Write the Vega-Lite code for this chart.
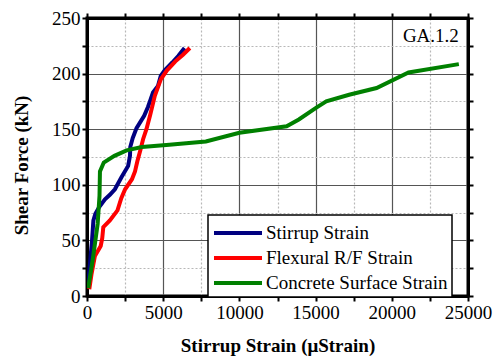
{
  "$schema": "https://vega.github.io/schema/vega-lite/v6.json",
  "width": 381,
  "height": 278,
  "autosize": {"type": "none"},
  "padding": {"left": 87, "top": 18, "right": 27, "bottom": 65},
  "background": "white",
  "config": {
    "view": {"stroke": "black", "strokeWidth": 3},
    "font": "Times New Roman, Liberation Serif, serif",
    "axis": {
      "labelFont": "Times New Roman, Liberation Serif, serif",
      "labelFontSize": 19,
      "labelColor": "black",
      "labelFlush": false,
      "titleFont": "Times New Roman, Liberation Serif, serif",
      "titleFontSize": 19,
      "titleFontWeight": "bold",
      "titleColor": "black",
      "domainColor": "black",
      "domainWidth": 3,
      "tickColor": "black",
      "tickWidth": 2,
      "tickSize": 5,
      "gridWidth": 1.2
    }
  },
  "datasets": {
    "strain": [
      {"series": "Stirrup Strain", "strain": 60, "force": 8},
      {"series": "Stirrup Strain", "strain": 200, "force": 30},
      {"series": "Stirrup Strain", "strain": 330, "force": 50},
      {"series": "Stirrup Strain", "strain": 420, "force": 68},
      {"series": "Stirrup Strain", "strain": 550, "force": 74},
      {"series": "Stirrup Strain", "strain": 800, "force": 80},
      {"series": "Stirrup Strain", "strain": 1180, "force": 87},
      {"series": "Stirrup Strain", "strain": 1500, "force": 91},
      {"series": "Stirrup Strain", "strain": 1830, "force": 96},
      {"series": "Stirrup Strain", "strain": 2270, "force": 107},
      {"series": "Stirrup Strain", "strain": 2700, "force": 117},
      {"series": "Stirrup Strain", "strain": 2820, "force": 126},
      {"series": "Stirrup Strain", "strain": 2840, "force": 134},
      {"series": "Stirrup Strain", "strain": 3000, "force": 142},
      {"series": "Stirrup Strain", "strain": 3250, "force": 151},
      {"series": "Stirrup Strain", "strain": 3750, "force": 162},
      {"series": "Stirrup Strain", "strain": 4000, "force": 170},
      {"series": "Stirrup Strain", "strain": 4180, "force": 177},
      {"series": "Stirrup Strain", "strain": 4330, "force": 183},
      {"series": "Stirrup Strain", "strain": 4660, "force": 189},
      {"series": "Stirrup Strain", "strain": 4840, "force": 198},
      {"series": "Stirrup Strain", "strain": 5100, "force": 203},
      {"series": "Stirrup Strain", "strain": 5600, "force": 210},
      {"series": "Stirrup Strain", "strain": 6000, "force": 216},
      {"series": "Stirrup Strain", "strain": 6400, "force": 223},
      {"series": "Flexural R/F Strain", "strain": 150, "force": 6},
      {"series": "Flexural R/F Strain", "strain": 300, "force": 20},
      {"series": "Flexural R/F Strain", "strain": 520, "force": 36},
      {"series": "Flexural R/F Strain", "strain": 900, "force": 45},
      {"series": "Flexural R/F Strain", "strain": 1000, "force": 52},
      {"series": "Flexural R/F Strain", "strain": 1070, "force": 62},
      {"series": "Flexural R/F Strain", "strain": 1500, "force": 68},
      {"series": "Flexural R/F Strain", "strain": 2000, "force": 77},
      {"series": "Flexural R/F Strain", "strain": 2250, "force": 88},
      {"series": "Flexural R/F Strain", "strain": 2500, "force": 96},
      {"series": "Flexural R/F Strain", "strain": 2950, "force": 105},
      {"series": "Flexural R/F Strain", "strain": 3150, "force": 112},
      {"series": "Flexural R/F Strain", "strain": 3300, "force": 121},
      {"series": "Flexural R/F Strain", "strain": 3500, "force": 131},
      {"series": "Flexural R/F Strain", "strain": 3680, "force": 141},
      {"series": "Flexural R/F Strain", "strain": 3900, "force": 150},
      {"series": "Flexural R/F Strain", "strain": 4150, "force": 163},
      {"series": "Flexural R/F Strain", "strain": 4450, "force": 180},
      {"series": "Flexural R/F Strain", "strain": 4850, "force": 195},
      {"series": "Flexural R/F Strain", "strain": 5250, "force": 203},
      {"series": "Flexural R/F Strain", "strain": 5800, "force": 211},
      {"series": "Flexural R/F Strain", "strain": 6300, "force": 217},
      {"series": "Flexural R/F Strain", "strain": 6750, "force": 223},
      {"series": "Concrete Surface Strain", "strain": 80, "force": 7},
      {"series": "Concrete Surface Strain", "strain": 400, "force": 35},
      {"series": "Concrete Surface Strain", "strain": 700, "force": 65},
      {"series": "Concrete Surface Strain", "strain": 820, "force": 90},
      {"series": "Concrete Surface Strain", "strain": 850, "force": 112},
      {"series": "Concrete Surface Strain", "strain": 1100, "force": 120},
      {"series": "Concrete Surface Strain", "strain": 1800, "force": 126},
      {"series": "Concrete Surface Strain", "strain": 2600, "force": 131},
      {"series": "Concrete Surface Strain", "strain": 3600, "force": 134},
      {"series": "Concrete Surface Strain", "strain": 5400, "force": 136},
      {"series": "Concrete Surface Strain", "strain": 7800, "force": 139},
      {"series": "Concrete Surface Strain", "strain": 10000, "force": 146.8},
      {"series": "Concrete Surface Strain", "strain": 13100, "force": 152.7},
      {"series": "Concrete Surface Strain", "strain": 13900, "force": 158.7},
      {"series": "Concrete Surface Strain", "strain": 15000, "force": 169},
      {"series": "Concrete Surface Strain", "strain": 15700, "force": 175},
      {"series": "Concrete Surface Strain", "strain": 17200, "force": 181},
      {"series": "Concrete Surface Strain", "strain": 19000, "force": 187},
      {"series": "Concrete Surface Strain", "strain": 21100, "force": 201},
      {"series": "Concrete Surface Strain", "strain": 24400, "force": 208.5}
    ],
    "label": [{"text": "GA.1.2", "strain": 24400, "force": 234}]
  },
  "layer": [
    {
      "data": {"name": "strain"},
      "mark": {"type": "line", "strokeWidth": 4, "clip": true},
      "encoding": {
        "x": {
          "field": "strain", "type": "quantitative",
          "scale": {"domain": [0, 25000], "nice": false},
          "axis": {
            "orient": "bottom",
            "title": "Stirrup Strain (μStrain)",
            "titlePadding": 14,
            "values": [0, 2500, 5000, 7500, 10000, 12500, 15000, 17500, 20000, 22500, 25000],
            "labelExpr": "datum.value % 5000 === 0 ? datum.value : ''",
            "labelPadding": 2,
            "labelFlush": false,
            "grid": true,
            "gridColor": {"condition": {"test": "datum.value % 5000 === 0", "value": "#555555"}, "value": "#b8b8b8"},
            "gridDash": {"condition": {"test": "datum.value % 5000 === 0", "value": []}, "value": [2, 2]}
          }
        },
        "y": {
          "field": "force", "type": "quantitative",
          "scale": {"domain": [0, 250], "nice": false},
          "axis": {
            "orient": "left",
            "title": "Shear Force (kN)",
            "titlePadding": 20,
            "titleY": 147,
            "values": [0, 25, 50, 75, 100, 125, 150, 175, 200, 225, 250],
            "labelExpr": "datum.value % 50 === 0 ? datum.value : ''",
            "labelPadding": 2,
            "grid": true,
            "gridColor": {"condition": {"test": "datum.value % 50 === 0", "value": "#555555"}, "value": "#b8b8b8"},
            "gridDash": {"condition": {"test": "datum.value % 50 === 0", "value": []}, "value": [2, 2]}
          }
        },
        "color": {
          "field": "series", "type": "nominal",
          "scale": {
            "domain": ["Stirrup Strain", "Flexural R/F Strain", "Concrete Surface Strain"],
            "range": ["#000080", "#ff0000", "#008000"]
          },
          "legend": {
            "title": null,
            "orient": "none",
            "legendX": 121,
            "legendY": 197,
            "symbolType": "M-2,0H2",
            "symbolSize": 576,
            "symbolStrokeWidth": 4,
            "symbolOffset": 12,
            "labelFont": "Times New Roman, Liberation Serif, serif",
            "labelFontSize": 19,
            "labelColor": "black",
            "labelOffset": 14,
            "rowPadding": 1,
            "padding": 4,
            "strokeColor": "black",
            "fillColor": "white",
            "labelLimit": 300,
            "encode": {"legend": {"update": {"strokeWidth": {"value": 1.5}}}}
          }
        },
        "order": {"field": "force", "type": "quantitative"}
      }
    },
    {
      "data": {"name": "label"},
      "mark": {"type": "text", "align": "right", "baseline": "middle", "font": "Times New Roman, Liberation Serif, serif", "fontSize": 19, "color": "black"},
      "encoding": {
        "x": {"field": "strain", "type": "quantitative", "axis": {"orient": "top", "title": null, "labels": false, "grid": false, "values": [0, 2500, 5000, 7500, 10000, 12500, 15000, 17500, 20000, 22500, 25000]}},
        "y": {"field": "force", "type": "quantitative", "axis": {"orient": "right", "title": null, "labels": false, "grid": false, "values": [0, 25, 50, 75, 100, 125, 150, 175, 200, 225, 250]}},
        "text": {"field": "text"}
      }
    }
  ]
}
